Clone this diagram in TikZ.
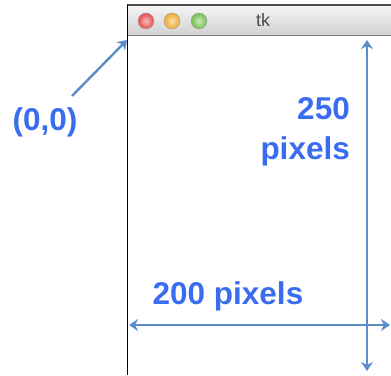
\documentclass[tikz,border=0pt]{standalone}
\usepackage{fontspec}
\setmainfont{Liberation Sans}
\usetikzlibrary{arrows.meta}
\definecolor{lblblue}{HTML}{3A6CF0}
\definecolor{arrblue}{HTML}{5B8EC8}
\definecolor{lred}{HTML}{E84848}
\definecolor{lamber}{HTML}{F0A828}
\definecolor{lgreen}{HTML}{70C048}
\begin{document}
\begin{tikzpicture}[x=1pt,y=-1pt,
  lbl/.style={font=\bfseries\fontsize{31.5}{34}\selectfont, text=lblblue, inner sep=0pt},
  dim/.style={draw=arrblue, line width=2.4pt, {Stealth[length=9pt,width=12pt]}-{Stealth[length=9pt,width=12pt]}},
  ptr/.style={draw=arrblue, line width=2.4pt, -{Stealth[length=9pt,width=12pt]}},
  light/.style={circle, draw=black!35, line width=0.5pt, minimum size=16pt, inner sep=0pt}]
  \useasboundingbox (0,0) rectangle (391,375);

  % window
  \shade[top color=gray!8, bottom color=gray!35] (127,5) rectangle (391,35);
  \draw[black!70, line width=1.2pt] (127,5) -- (391,5);
  \draw[black!50, line width=1pt] (127,35) -- (391,35);
  \draw[black, line width=1pt] (127,5) -- (127,375);

  \node[light, inner color=lred!35, outer color=lred] (red) at (146,21) {};
  \node[light, inner color=lamber!35, outer color=lamber] (amber) at (172,21) {};
  \node[light, inner color=lgreen!35, outer color=lgreen] (grn) at (199,21) {};
  \node[font=\fontsize{18}{20}\selectfont, text=black!70] (title) at (263,20) {tk};

  % labels
  \node[lbl] (origin) at (45,122) {(0,0)};
  \node[lbl, align=right, anchor=east] (height) at (350,132) {250\\[6pt]pixels};
  \node[lbl] (width) at (228,296) {200 pixels};

  % arrows
  \coordinate (tl) at (127,40);
  \coordinate (ptail) at (72,96);
  \coordinate (vtop) at (367,40);
  \coordinate (vbot) at (367,371);
  \coordinate (hleft) at (129,325);
  \coordinate (hright) at (390,325);

  \draw[ptr] (ptail) -- (tl);
  \draw[dim] (vtop) -- (vbot);
  \draw[dim] (hleft) -- (hright);
\end{tikzpicture}
\end{document}
